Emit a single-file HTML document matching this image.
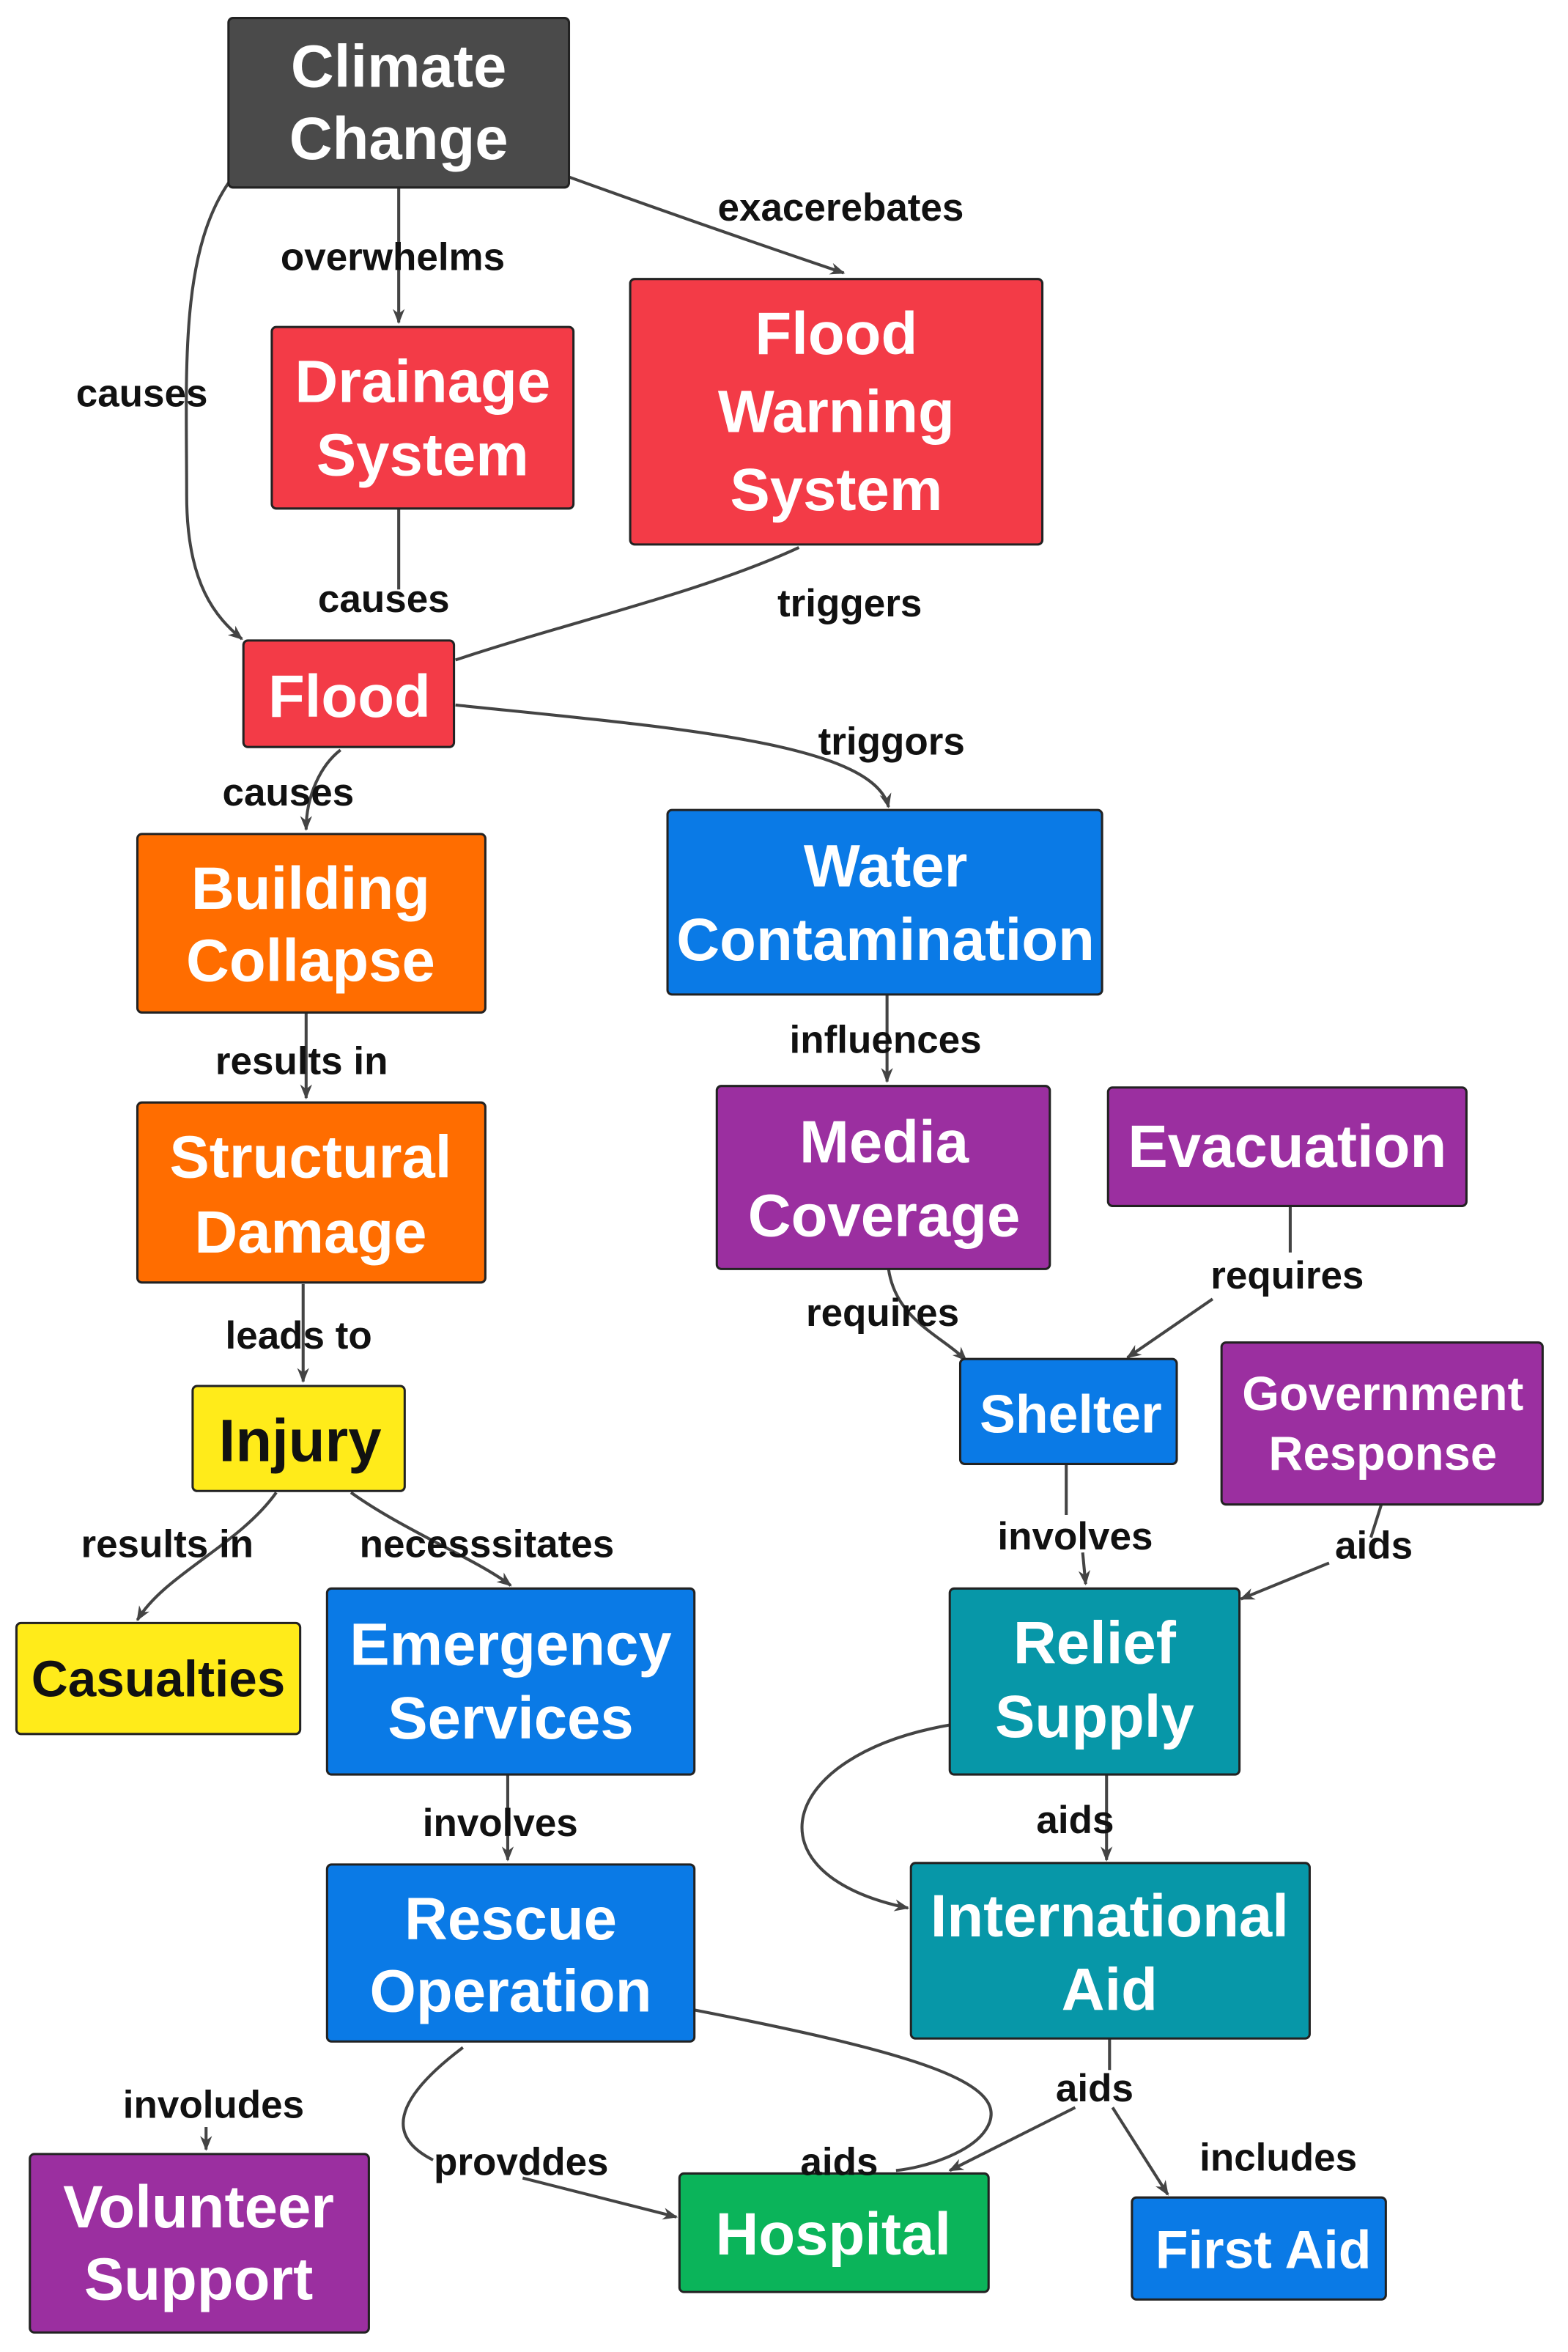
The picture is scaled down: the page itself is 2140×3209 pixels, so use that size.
<!DOCTYPE html>
<html><head><meta charset="utf-8"><style>
html,body{margin:0;padding:0;background:#fff;}
svg{display:block;}
.n{stroke:#222;stroke-width:1.5;}
.t{font-family:"Liberation Sans",sans-serif;font-weight:bold;fill:#fff;text-anchor:middle;}
.l{font-family:"Liberation Sans",sans-serif;font-weight:bold;fill:#111;text-anchor:middle;font-size:26px;}
.e{fill:none;stroke:#444;stroke-width:2;}
</style></head><body>
<svg width="2140" height="3209" viewBox="0 0 1050 1568" preserveAspectRatio="none" xmlns="http://www.w3.org/2000/svg">
<defs><marker id="a" markerWidth="10" markerHeight="10" refX="9" refY="5" orient="auto" markerUnits="userSpaceOnUse"><path d="M0,1 L10,5 L0,9 L3,5 z" fill="#444"/></marker></defs>
<g class="e">
<path d="M267,125 L267,215" marker-end="url(#a)"/>
<path d="M381,118 Q470,150 565,182" marker-end="url(#a)"/>
<path d="M153,122 C120,170 125,250 125,330 C125,390 145,412 162,426" marker-end="url(#a)"/>
<path d="M267,339 L267,393"/>
<path d="M535,365 C470,395 380,415 305,440"/>
<path d="M305,470 C450,485 585,495 595,538" marker-end="url(#a)"/>
<path d="M228,500 C215,510 205,530 205,553" marker-end="url(#a)"/>
<path d="M205,675 L205,732" marker-end="url(#a)"/>
<path d="M203,856 L203,921" marker-end="url(#a)"/>
<path d="M185,995 C160,1030 110,1050 92,1080" marker-end="url(#a)"/>
<path d="M235,995 C270,1020 320,1040 342,1057" marker-end="url(#a)"/>
<path d="M340,1183 L340,1240" marker-end="url(#a)"/>
<path d="M594,663 L594,721" marker-end="url(#a)"/>
<path d="M595,846 C600,880 630,890 647,907" marker-end="url(#a)"/>
<path d="M864,804 L864,835"/>
<path d="M812,866 L755,905" marker-end="url(#a)"/>
<path d="M714,976 L714,1010"/>
<path d="M725,1035 L727,1056" marker-end="url(#a)"/>
<path d="M925,1003 L918,1025"/>
<path d="M890,1042 L831,1066" marker-end="url(#a)"/>
<path d="M741,1183 L741,1240" marker-end="url(#a)"/>
<path d="M636,1150 C520,1170 500,1250 608,1272" marker-end="url(#a)"/>
<path d="M743,1359 L743,1380"/>
<path d="M720,1405 L636,1447" marker-end="url(#a)"/>
<path d="M745,1405 L782,1463" marker-end="url(#a)"/>
<path d="M465,1340 C620,1370 680,1390 660,1420 C650,1435 620,1445 600,1447"/>
<path d="M310,1365 C250,1410 270,1430 290,1440"/>
<path d="M350,1452 L453,1478" marker-end="url(#a)"/>
<path d="M138,1418 L138,1433" marker-end="url(#a)"/>
</g>
<g>
<rect class="n" x="153" y="12" width="228" height="113" rx="3" fill="#4a4a4a"/>
<rect class="n" x="182" y="218" width="202" height="121" rx="3" fill="#f33b47"/>
<rect class="n" x="422" y="186" width="276" height="177" rx="3" fill="#f33b47"/>
<rect class="n" x="163" y="427" width="141" height="71" rx="3" fill="#f33b47"/>
<rect class="n" x="92" y="556" width="233" height="119" rx="3" fill="#ff6d00"/>
<rect class="n" x="92" y="735" width="233" height="120" rx="3" fill="#ff6d00"/>
<rect class="n" x="129" y="924" width="142" height="70" rx="3" fill="#ffeb1a"/>
<rect class="n" x="11" y="1082" width="190" height="74" rx="3" fill="#ffeb1a"/>
<rect class="n" x="219" y="1059" width="246" height="124" rx="3" fill="#0a7ae6"/>
<rect class="n" x="219" y="1243" width="246" height="118" rx="3" fill="#0a7ae6"/>
<rect class="n" x="20" y="1436" width="227" height="119" rx="3" fill="#9b2fa0"/>
<rect class="n" x="455" y="1449" width="207" height="79" rx="3" fill="#0bb45a"/>
<rect class="n" x="758" y="1465" width="170" height="68" rx="3" fill="#0a7ae6"/>
<rect class="n" x="610" y="1242" width="267" height="117" rx="3" fill="#0797a8"/>
<rect class="n" x="636" y="1059" width="194" height="124" rx="3" fill="#0797a8"/>
<rect class="n" x="643" y="906" width="145" height="70" rx="3" fill="#0a7ae6"/>
<rect class="n" x="818" y="895" width="215" height="108" rx="3" fill="#9b2fa0"/>
<rect class="n" x="742" y="725" width="240" height="79" rx="3" fill="#9b2fa0"/>
<rect class="n" x="480" y="724" width="223" height="122" rx="3" fill="#9b2fa0"/>
<rect class="n" x="447" y="540" width="291" height="123" rx="3" fill="#0a7ae6"/>
</g>
<g class="t" font-size="40">
<text x="267" y="58">Climate</text><text x="267" y="106">Change</text>
<text x="283" y="268">Drainage</text><text x="283" y="317">System</text>
<text x="560" y="236">Flood</text><text x="560" y="288">Warning</text><text x="560" y="340">System</text>
<text x="234" y="478">Flood</text>
<text x="208" y="606">Building</text><text x="208" y="654">Collapse</text>
<text x="208" y="785">Structural</text><text x="208" y="835">Damage</text>
<text x="201" y="974" fill="#111">Injury</text>
<text x="106" y="1131" fill="#111" font-size="34">Casualties</text>
<text x="342" y="1110">Emergency</text><text x="342" y="1159">Services</text>
<text x="342" y="1293">Rescue</text><text x="342" y="1341">Operation</text>
<text x="133" y="1485">Volunteer</text><text x="133" y="1533">Support</text>
<text x="558" y="1503">Hospital</text>
<text x="846" y="1512" font-size="36">First Aid</text>
<text x="743" y="1291">International</text><text x="743" y="1340">Aid</text>
<text x="733" y="1109">Relief</text><text x="733" y="1158">Supply</text>
<text x="717" y="955" font-size="36">Shelter</text>
<text x="926" y="940" font-size="32">Government</text><text x="926" y="980" font-size="32">Response</text>
<text x="862" y="778">Evacuation</text>
<text x="592" y="775">Media</text><text x="592" y="824">Coverage</text>
<text x="593" y="591">Water</text><text x="593" y="640">Contamination</text>
</g>
<g class="l">
<text x="263" y="180">overwhelms</text>
<text x="563" y="147">exacerebates</text>
<text x="95" y="271">causes</text>
<text x="257" y="408">causes</text>
<text x="569" y="411">triggers</text>
<text x="597" y="503">triggors</text>
<text x="193" y="537">causes</text>
<text x="202" y="716">results in</text>
<text x="200" y="899">leads to</text>
<text x="112" y="1038">results in</text>
<text x="326" y="1038">necesssitates</text>
<text x="335" y="1224">involves</text>
<text x="593" y="702">influences</text>
<text x="591" y="884">requires</text>
<text x="862" y="859">requires</text>
<text x="720" y="1033">involves</text>
<text x="920" y="1039">aids</text>
<text x="720" y="1222">aids</text>
<text x="733" y="1401">aids</text>
<text x="856" y="1447">includes</text>
<text x="562" y="1450">aids</text>
<text x="349" y="1450">provddes</text>
<text x="143" y="1412">involudes</text>
</g>
</svg>
</body></html>
